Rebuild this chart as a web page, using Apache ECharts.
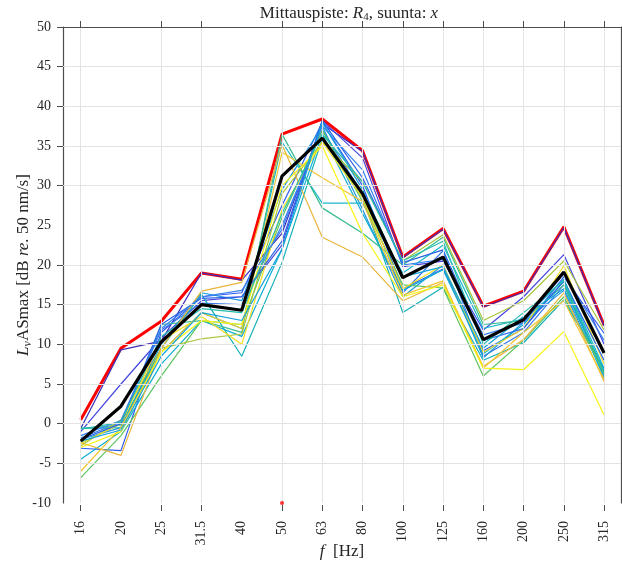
<!DOCTYPE html>
<html>
<head>
<meta charset="utf-8">
<script src="https://cdn.jsdelivr.net/npm/echarts@6/dist/echarts.min.js"></script>
<style>
  html, body { margin: 0; padding: 0; background: #fff; }
  #chart { width: 622px; height: 566px; }
</style>
</head>
<body>
<div id="chart"></div>
<script>
// Third-octave band centre frequencies (Hz)
const freqLabels = ['16', '20', '25', '31.5', '40', '50', '63', '80', '100', '125', '160', '200', '250', '315'];

// Individual vibration measurements, L_vASmax (dB re. 50 nm/s)
const run01 = [-0.6, 9.3, 10.4, 19.0, 18.1, 24.0, 37.8, 34.3, 20.9, 24.5, 14.7, 16.6, 24.7, 12.3];
const run02 = [-1.0, 5.0, 10.8, 15.5, 16.0, 22.5, 38.2, 33.5, 19.8, 20.5, 11.8, 16.0, 21.3, 10.0];
const run03 = [-3.1, -3.4, 11.5, 16.0, 16.5, 27.5, 38.0, 30.0, 17.0, 19.5, 9.2, 12.0, 18.5, 11.4];
const run04 = [-1.8, 0.2, 11.8, 15.2, 15.0, 25.0, 37.0, 29.0, 16.5, 21.8, 8.5, 11.5, 17.5, 6.5];
const run05 = [-2.0, -0.5, 10.0, 16.5, 15.5, 29.5, 37.5, 27.0, 16.0, 20.0, 8.3, 12.8, 16.8, 6.0];
const run06 = [-4.5, -1.0, 7.5, 13.0, 11.0, 22.0, 36.5, 26.5, 16.8, 19.4, 8.8, 12.5, 17.9, 5.7];
const run07 = [-2.5, 0.0, 9.0, 14.0, 12.0, 35.5, 27.8, 27.8, 19.0, 22.5, 12.0, 13.2, 18.2, 7.0];
const run08 = [-0.6, -0.5, 9.5, 16.3, 8.5, 20.3, 36.0, 28.5, 14.0, 17.2, 8.0, 10.2, 15.6, 6.8];
const run09 = [-0.6, -0.2, 12.5, 13.0, 11.5, 36.5, 27.2, 24.0, 20.0, 23.5, 12.5, 13.0, 17.5, 6.2];
const run10 = [-6.8, -1.5, 6.0, 13.0, 12.5, 26.0, 37.0, 28.0, 17.5, 17.1, 6.0, 10.5, 16.0, 6.5];
const run11 = [-2.8, 0.5, 9.5, 10.7, 11.3, 29.0, 35.5, 30.5, 20.5, 23.8, 13.0, 15.5, 20.5, 11.8];
const run12 = [-2.4, -4.0, 9.5, 16.7, 17.8, 35.2, 23.5, 21.0, 15.5, 17.8, 7.2, 10.6, 16.5, 5.3];
const run13 = [-6.0, -0.5, 9.0, 14.0, 12.0, 34.2, 31.0, 28.0, 16.2, 18.0, 7.0, 11.5, 15.5, 5.6];
const run14 = [-2.5, 0.0, 10.5, 13.5, 10.0, 27.0, 35.5, 28.5, 17.0, 20.0, 9.0, 12.0, 19.9, 7.5];
const run15 = [-3.0, -1.0, 9.0, 13.0, 12.5, 30.0, 35.0, 24.0, 16.0, 17.5, 7.0, 6.8, 11.6, 1.1];
const run16 = [-2.0, 0.0, 12.5, 15.8, 16.0, 23.0, 38.2, 31.0, 20.3, 21.9, 10.5, 12.0, 18.0, 8.0];
const run17 = [-1.5, 0.4, 12.0, 16.0, 16.8, 24.5, 37.5, 32.0, 20.0, 20.7, 11.2, 12.7, 18.9, 10.5];
const run18 = [-2.2, -0.8, 8.5, 14.0, 13.0, 22.0, 38.0, 29.5, 18.5, 19.8, 9.5, 13.5, 17.0, 6.8];
const run19 = [-0.7, 0.2, 11.0, 14.5, 14.0, 26.5, 36.5, 30.5, 20.5, 23.0, 10.0, 14.0, 18.0, 6.5];

// Envelope and average of all runs
const maxLevel  = [0.5, 9.5, 12.9, 19.0, 18.2, 36.5, 38.4, 34.4, 21.0, 24.6, 14.8, 16.7, 24.8, 12.4];
const meanLevel = [-2.2, 2.2, 10.3, 15.0, 14.3, 31.2, 36.0, 29.0, 18.4, 21.0, 10.6, 13.1, 19.1, 8.9];

// Single flagged point at the 50 Hz band
const flagPoint = [[6, -10]];

const runs = [run01, run02, run03, run04, run05, run06, run07, run08, run09, run10,
              run11, run12, run13, run14, run15, run16, run17, run18, run19];
const runColors = ['#3f2db8', '#4646e0', '#2f5cf0', '#3a7bec', '#1e96de', '#0dadd4', '#1ab8cc',
                   '#12b0b8', '#38bc90', '#5cc462', '#a8c63a', '#eab53a', '#f2c530', '#f3dc22',
                   '#f7f414', '#2a62e8', '#3680f0', '#14a2dc', '#26bcb0'];

// Band indices / levels that carry tick marks and grid lines
const xTickIdx = [1, 3, 4, 6, 7, 8, 9, 10, 11, 12, 13, 14];
const xLabelIdx = freqLabels.map((_, i) => i + 1);
const yTickVals = [-5, 0, 5, 10, 15, 20, 30, 35, 40, 45, 50];
const yLabelVals = [-10, -5, 0, 5, 10, 15, 20, 25, 30, 35, 40, 45, 50];
const yTop = 50;

const toXY = arr => arr.map((v, i) => [i + 1, v]);

const serifFont = '"Liberation Serif", "DejaVu Serif", serif';
const axisGray = '#4d4d4d';
const textColor = '#262626';
const gridGray = '#e3e3e3';
const xMin = 0.56, xMax = 14.42;

const series = [];
// Grid lines and the upper frame edge, placed on the axis scales
series.push({
  type: 'line', data: [], z: 0, silent: true, clip: false,
  markLine: {
    silent: true, symbol: ['none', 'none'], animation: false,
    label: { show: false },
    lineStyle: { type: 'solid', color: gridGray, width: 1 },
    emphasis: { disabled: true },
    data: xTickIdx.map(v => ({ xAxis: v }))
      .concat(yTickVals.filter(v => v !== yTop).map(v => ({ yAxis: v })))
  }
});
series.push({
  type: 'line', data: [], z: 10, silent: true, clip: false,
  markLine: {
    silent: true, symbol: ['none', 'none'], animation: false,
    label: { show: false },
    lineStyle: { type: 'solid', color: axisGray, width: 1.2 },
    emphasis: { disabled: true },
    data: [{ yAxis: yTop }]
  }
});
series.push({
  type: 'line', data: toXY(maxLevel), showSymbol: false, symbol: 'none',
  lineStyle: { color: '#ff0000', width: 3 }, z: 2
});
runs.forEach((r, k) => {
  series.push({
    type: 'line', data: toXY(r), showSymbol: false, symbol: 'none',
    lineStyle: { color: runColors[k], width: 1.2 }, z: 3
  });
});
series.push({
  type: 'line', data: toXY(meanLevel), showSymbol: false, symbol: 'none',
  lineStyle: { color: '#000000', width: 3.2 }, z: 5
});
series.push({
  type: 'scatter', data: flagPoint, symbol: 'circle', symbolSize: 4,
  itemStyle: { color: '#ff0000' }, clip: false, z: 6
});

const italicRich = { fontFamily: serifFont, fontSize: 17, fontStyle: 'italic', color: textColor };

const chart = echarts.init(document.getElementById('chart'), null, { renderer: 'canvas' });
chart.setOption({
  animation: false,
  backgroundColor: '#ffffff',
  title: {
    text: 'Mittauspiste: {i|R}{sub|4}, suunta: {i|x}',
    left: 344, top: -1, textAlign: 'center',
    textStyle: {
      fontFamily: serifFont, fontSize: 17, fontWeight: 'normal', color: textColor,
      rich: {
        i: { fontFamily: serifFont, fontSize: 17, fontStyle: 'italic', color: textColor },
        sub: { fontFamily: serifFont, fontSize: 11, color: textColor, padding: [8, 0, 0, 0] }
      }
    }
  },
  grid: { left: 63, right: 1, top: 27, bottom: 63, containLabel: false, outerBoundsMode: 'none' },
  xAxis: [{
    type: 'value', position: 'bottom', min: xMin, max: xMax, offset: 2,
    axisLine: { show: false, onZero: false },
    axisTick: { show: true, inside: false, length: 6, customValues: xTickIdx,
                lineStyle: { color: axisGray, width: 1 } },
    axisLabel: { show: true, customValues: xLabelIdx, rotate: 90, margin: 16,
                 formatter: v => freqLabels[Math.round(v) - 1] || '',
                 fontFamily: serifFont, fontSize: 14, color: textColor },
    splitLine: { show: false },
    name: '{i|f}  [Hz]', nameLocation: 'middle', nameGap: 38, nameMoveOverlap: false,
    nameTextStyle: { fontFamily: serifFont, fontSize: 17, color: textColor, rich: { i: italicRich } }
  }, {
    type: 'value', position: 'top', min: xMin, max: xMax, z: 10,
    axisLine: { show: true, onZero: false, lineStyle: { color: axisGray, width: 1.2 } },
    axisTick: { show: true, inside: false, length: 6, customValues: xTickIdx,
                lineStyle: { color: axisGray, width: 1 } },
    axisLabel: { show: false },
    splitLine: { show: false }
  }],
  yAxis: [{
    type: 'value', position: 'left', min: -10, max: 50, interval: 5,
    axisLine: { show: true, onZero: false, lineStyle: { color: axisGray, width: 1.2 } },
    axisTick: { show: true, inside: false, length: 6, customValues: yTickVals,
                lineStyle: { color: axisGray, width: 1 } },
    axisLabel: { show: true, customValues: yLabelVals, margin: 12,
                 fontFamily: serifFont, fontSize: 14, color: textColor },
    splitLine: { show: false },
    name: '{i|L}{sub|v}ASmax [dB {i|re.} 50 nm/s]', nameLocation: 'middle', nameGap: 29,
    nameRotate: 90, nameMoveOverlap: false,
    nameTextStyle: { fontFamily: serifFont, fontSize: 17, color: textColor,
                     rich: {
                       i: italicRich,
                       sub: { fontFamily: serifFont, fontSize: 12, fontStyle: 'italic', color: textColor, padding: [8, 0, 0, 0] }
                     } }
  }, {
    type: 'value', position: 'right', min: -10, max: 50, interval: 5,
    axisLine: { show: true, onZero: false, lineStyle: { color: axisGray, width: 1.2 } },
    axisTick: { show: true, inside: false, length: 6, customValues: yTickVals,
                lineStyle: { color: axisGray, width: 1 } },
    axisLabel: { show: false },
    splitLine: { show: false }
  }],
  series: series
});
</script>
</body>
</html>
